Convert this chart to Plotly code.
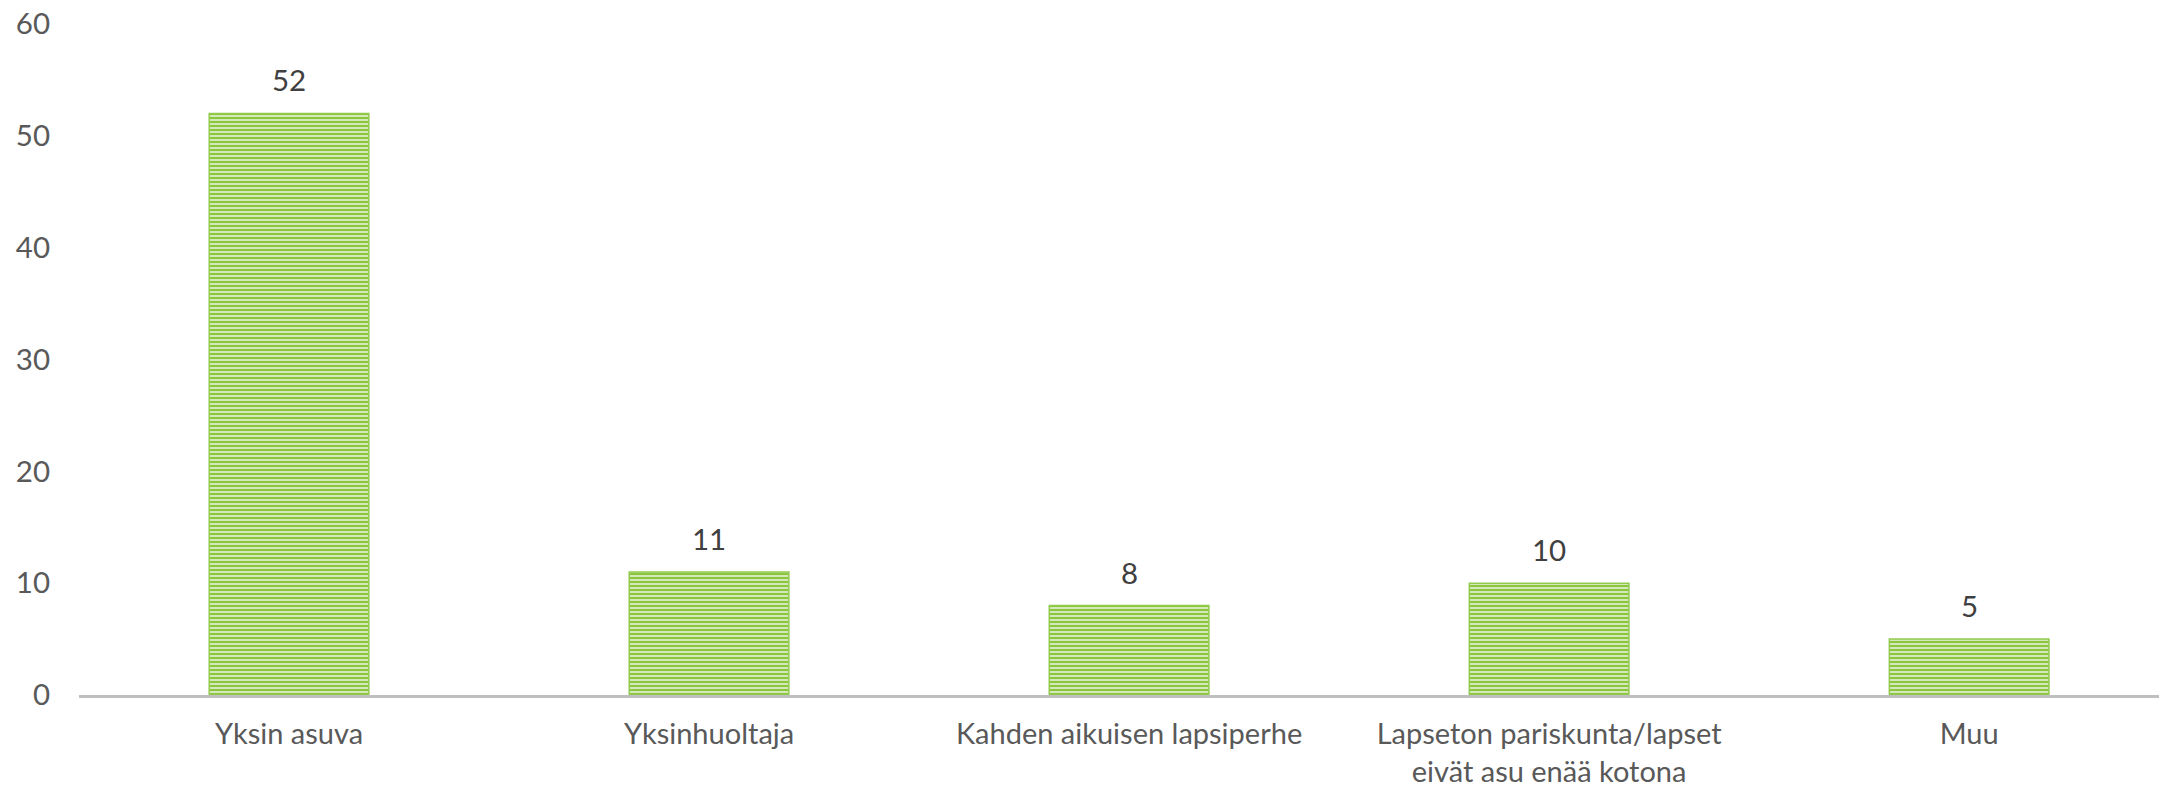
import plotly.graph_objects as go

categories = ["Yksin asuva", "Yksinhuoltaja", "Kahden aikuisen lapsiperhe",
              "Lapseton pariskunta/lapset<br>eivät asu enää kotona", "Muu"]
values = [52, 11, 8, 10, 5]
y_ticks = [0, 10, 20, 30, 40, 50, 60]

FONT = "Lato"
green = "#8CC63F"
light = "#E6F2D8"

fig = go.Figure()
fig.add_trace(go.Bar(
    x=categories, y=values, width=0.38,
    marker=dict(
        color=green,
        line=dict(color="#92CA4E", width=1.5),
        pattern=dict(shape="-", fgcolor=green, bgcolor=light, size=4, solidity=0.6,
                     fillmode="replace", fgopacity=1),
    ),
    hoverinfo="skip",
))

for c, v in zip(categories, values):
    fig.add_annotation(x=c, y=v, text=str(v), showarrow=False, yanchor="bottom", yshift=14,
                       font=dict(family=FONT, size=29.5, color="#404040"))

fig.update_layout(
    width=2159, height=788,
    margin=dict(l=79, r=0, t=24, b=93),
    paper_bgcolor="white", plot_bgcolor="white",
    showlegend=False,
    font=dict(family=FONT, size=29, color="#595959"),
)
fig.update_xaxes(
    type="category", range=[-0.5, 4.452], automargin=False,
    showline=True, linecolor="#BFBFBF", linewidth=3,
    showgrid=False, ticks="", ticklabelstandoff=11, ticklabeloverflow="allow",
    tickfont=dict(family=FONT, size=29, color="#595959"),
)
fig.update_yaxes(
    range=[0, 60], tickvals=y_ticks, showgrid=False, zeroline=False, automargin=False,
    showline=False, ticks="", ticklabelstandoff=28, ticklabeloverflow="allow",
    tickfont=dict(family=FONT, size=29.5, color="#595959"),
)

# remove the browser's default 8px body margin so the figure fills the window exactly
fig.write_html("out.html", config={"displayModeBar": False},
               post_script="document.body.style.margin='0px';document.body.style.overflow='hidden';")
